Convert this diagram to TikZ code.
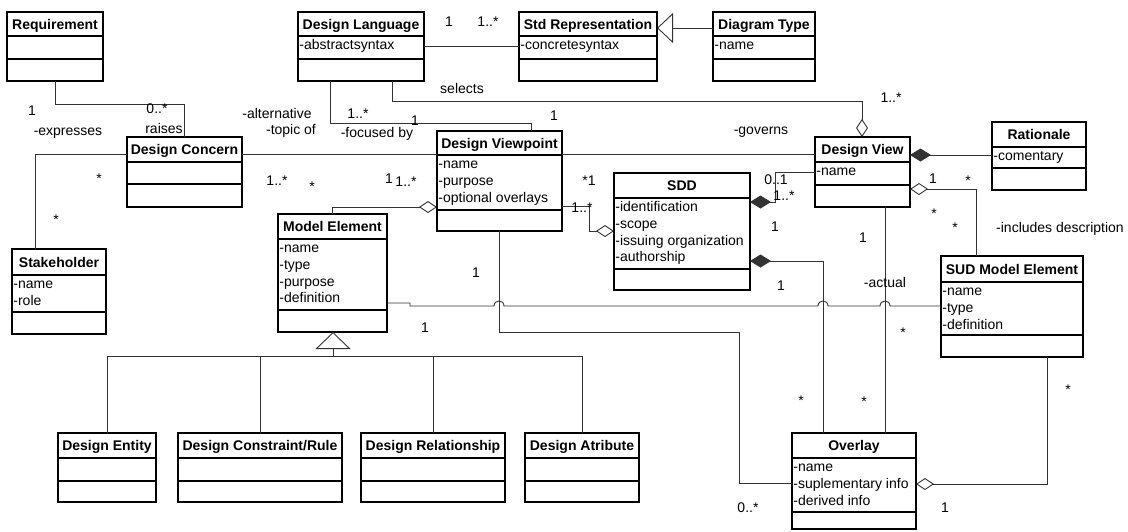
\documentclass[tikz,border=0pt]{standalone}
\usepackage{fontspec}
\setmainfont{Liberation Sans}
\usetikzlibrary{arrows.meta}
\newcommand\fl{\rule{0pt}{13.5pt}}
\newcommand\umlclass[9]{%
  \node[classbox, minimum width={(#4-#2)*1pt}, minimum height={(#5-#3)*1pt}, anchor=north west] (#1) at (#2,#3) {};
  \draw[boxline] (#2,#6) -- (#4,#6) (#2,#7) -- (#4,#7);
  \node[ctitle] (#1-title) at ({(#2+#4)/2},{(#3+#6)/2}) {#8};
  \node[cattr, anchor=north west] (#1-attrs) at (#2,#6) {\fl #9};
}
\tikzset{
 classbox/.style={draw=black, line width=1.1pt, inner sep=0pt, outer sep=0pt, fill=white},
 boxline/.style={line width=1.1pt},
 ctitle/.style={font=\fontsize{14}{16}\selectfont\bfseries, inner sep=0pt, text height=10pt, text depth=0pt},
 cattr/.style={font=\fontsize{14}{16.7}\selectfont, align=left, inner xsep=1.2pt, inner ysep=0pt},
 lbl/.style={font=\fontsize{14}{16}\selectfont, inner sep=0pt, text height=10pt, text depth=0pt},
 conn/.style={line width=0.9pt, draw=black!80},
 odia/.style={-{Diamond[open,length=18pt,width=12pt]}},
 fdia/.style={-{Diamond[length=21pt,width=13pt]}},
 gentip/.style={-{Triangle[open,length=16pt,width=30pt]}},
}
\begin{document}
\begin{tikzpicture}[x=1pt,y=-1pt]
\useasboundingbox (0,0) rectangle (1128,531);
% classes
\umlclass{req}{7}{12}{103}{81}{36}{59}{Requirement}{}
\umlclass{dl}{298}{12}{424}{81}{36}{59}{Design Language}{-abstractsyntax}
\umlclass{sr}{519}{12}{657}{81}{36}{59}{Std Representation}{-concretesyntax}
\umlclass{dt}{713}{12}{815}{81}{36}{59}{Diagram Type}{-name}
\umlclass{dc}{127}{137}{242}{207}{162}{184}{Design Concern}{}
\umlclass{dvp}{437}{131}{562}{231}{155}{210}{Design Viewpoint}{-name\\-purpose\\-optional overlays}
\umlclass{dv}{815}{137}{910}{207}{162}{185}{Design View}{-name}
\umlclass{rat}{992}{122}{1086}{190}{147}{168}{Rationale}{-comentary}
\umlclass{sh}{12}{249}{106}{334}{275}{312}{Stakeholder}{-name\\-role}
\umlclass{me}{278}{214}{387}{332}{239}{310}{Model Element}{-name\\-type\\-purpose\\-definition}
\umlclass{sdd}{614}{173}{750}{290}{198}{269}{SDD}{-identification\\-scope\\-issuing organization\\-authorship}
\umlclass{sud}{941}{256}{1083}{357}{282}{335}{SUD Model Element}{-name\\-type\\-definition}
\umlclass{ov}{792}{433}{916}{529}{458}{512}{Overlay}{-name\\-suplementary info\\-derived info}
\umlclass{de}{58}{433}{156}{502}{458}{481}{Design Entity}{}
\umlclass{dcr}{178}{433}{342}{502}{458}{481}{Design Constraint/Rule}{}
\umlclass{dr}{361}{433}{505}{502}{458}{481}{Design Relationship}{}
\umlclass{da}{525}{433}{639}{502}{458}{481}{Design Atribute}{}
% connectors
\draw[conn] (55,0 |- req.south) -- (55,104) -- (184,104) -- (184,0 |- dc.north);
\draw[conn] (dl.east |- 0,46) -- (sr.west |- 0,46);
\draw[conn,gentip] (dt.west |- 0,28) -- (sr.east |- 0,28);
\draw[conn,odia] (392,0 |- dl.south) -- (392,101) -- (862,101) -- (862,0 |- dv.north);
\draw[conn] (330,0 |- dl.south) -- (330,123) -- (531,123) -- (531,0 |- dvp.north);
\draw[conn] (dc.east |- 0,154) -- (dvp.west |- 0,154);
\draw[conn] (dvp.east |- 0,154) -- (dv.west |- 0,154);
\draw[conn] (dc.west |- 0,154) -- (35,154) -- (35,0 |- sh.north);
\draw[conn,odia] (332,0 |- me.north) -- (332,207) -- (dvp.west |- 0,207);
\draw[conn,odia] (dvp.east |- 0,206) -- (589,206) -- (589,231) -- (sdd.west |- 0,231);
\draw[conn,fdia] (dv.west |- 0,172) -- (775,172) -- (775,202) -- (sdd.east |- 0,202);
\draw[conn,fdia] (rat.west |- 0,155) -- (dv.east |- 0,155);
\draw[conn,odia] (976,0 |- sud.north) -- (976,189) -- (dv.east |- 0,189);
\draw[conn] (me.east |- 0,303) -- (410,303) -- (410,306) -- (494,306)
  .. controls (494,299.3) and (504,299.3) .. (504,306) -- (818,306)
  .. controls (818,299.3) and (828,299.3) .. (828,306) -- (880,306)
  .. controls (880,299.3) and (890,299.3) .. (890,306) -- (sud.west |- 0,306);
\draw[conn] (499,0 |- dvp.south) -- (499,332) -- (739,332) -- (739,483) -- (ov.west |- 0,483);
\draw[conn,fdia] (823,0 |- ov.north) -- (823,261) -- (sdd.east |- 0,261);
\draw[conn] (885,0 |- dv.south) -- (885,0 |- ov.north);
\draw[conn,odia] (1047,0 |- sud.south) -- (1047,484) -- (ov.east |- 0,484);
% generalization tree
\coordinate (gj) at (333,356);
\draw[conn] (107,0 |- de.north) -- (107,356) -- (582,356) -- (582,0 |- da.north);
\draw[conn] (260,0 |- dcr.north) -- (260,356);
\draw[conn] (433,0 |- dr.north) -- (433,356);
\draw[conn,-{Triangle[open,length=17pt,width=35pt]}] (gj) -- (333,0 |- me.south);
% labels
\node[lbl] (l1) at (32,110) {1};
\node[lbl] (l2) at (68,130) {-expresses};
\node[lbl] (l3) at (157,108) {0..*};
\node[lbl] (l4) at (164,128) {raises};
\node[lbl] (l5) at (277,113) {-alternative};
\node[lbl] (l6) at (291,129) {-topic of};
\node[lbl] (l7) at (358,113) {1..*};
\node[lbl] (l8) at (377,132) {-focused by};
\node[lbl] (l9) at (415,120) {1};
\node[lbl] (l10) at (449,21) {1};
\node[lbl] (l11) at (488,21) {1..*};
\node[lbl] (l12) at (462,88) {selects};
\node[lbl] (l13) at (554,115) {1};
\node[lbl] (l14) at (891,97) {1..*};
\node[lbl] (l15) at (761,129) {-governs};
\node[lbl] (l16) at (277,180) {1..*};
\node[lbl] (l17) at (312,186) {*};
\node[lbl] (l18) at (406,181) {1..*};
\node[lbl] (l19) at (389,178) {1};
\node[lbl] (l20) at (589,180) {*1};
\node[lbl] (l21) at (582,207) {1..*};
\node[lbl] (l22) at (776,179) {0..1};
\node[lbl] (l23) at (784,195) {1..*};
\node[lbl] (l24) at (775,226) {1};
\node[lbl] (l25) at (933,178) {1};
\node[lbl] (l26) at (968,180) {*};
\node[lbl] (l27) at (934,213) {*};
\node[lbl] (l28) at (955,227) {*};
\node[lbl] (l29) at (1060,227) {-includes description};
\node[lbl] (l30) at (99,178) {*};
\node[lbl] (l31) at (56,219) {*};
\node[lbl] (l32) at (476,272) {1};
\node[lbl] (l33) at (425,327) {1};
\node[lbl] (l34) at (885,282) {-actual};
\node[lbl] (l35) at (863,237) {1};
\node[lbl] (l36) at (781,285) {1};
\node[lbl] (l37) at (903,332) {*};
\node[lbl] (l38) at (801,400) {*};
\node[lbl] (l39) at (864,401) {*};
\node[lbl] (l40) at (1068,389) {*};
\node[lbl] (l41) at (748,507) {0..*};
\node[lbl] (l42) at (945,507) {1};
\end{tikzpicture}
\end{document}
